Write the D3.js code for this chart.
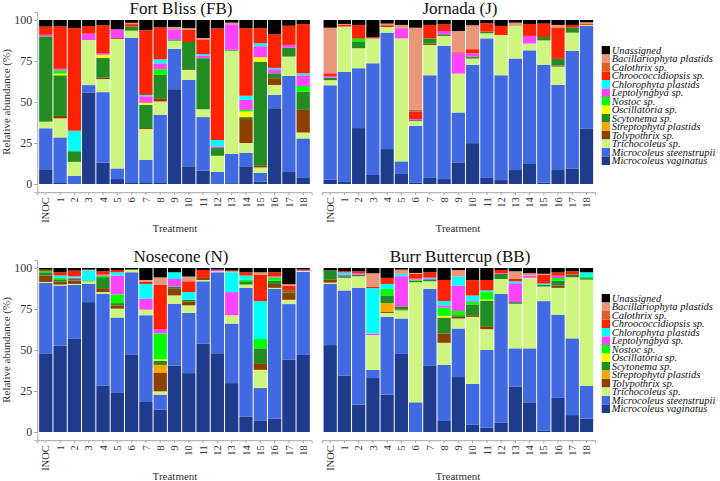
<!DOCTYPE html>
<html><head><meta charset="utf-8">
<script src="https://cdn.jsdelivr.net/npm/d3@7"></script>
<style>
html,body{margin:0;padding:0;background:#fff;}
svg text{font-family:"Liberation Serif","Times New Roman",serif;}
</style></head>
<body>
<svg id="chart" width="720" height="481"></svg>
<script>
const treatments = ["INOC","1","2","3","4","5","6","7","8","9","10","11","12","13","14","15","16","17","18"];
// stacking order bottom -> top
const keys = ["vag","steen","tricho","tolyp","strepto","scyto","osc","nostoc","lepto","chloro","chroo","calo","bacil","unas"];
const taxa = ["Microcoleus vaginatus","Microcoleus steenstrupii","Trichocoleus sp.","Tolypothrix sp.","Streptophyta plastids","Scytonema sp.","Oscillatoria sp.","Nostoc sp.","Leptolyngbya sp.","Chlorophyta plastids","Chroococcidiopsis sp.","Calothrix sp.","Bacillariophyta plastids","Unassigned"];
const colors = ["#1f3b8c","#4169e1","#cdf57f","#8b4000","#ffa500","#228b22","#ffff00","#00ff00","#ff44ff","#00ffff","#ff2200","#d9622b","#e9967a","#000000"];
const yTicks = [0,25,50,75,100];

const fortBliss = [
 {vag:9,steen:25,tricho:4,scyto:52,lepto:1,chroo:5,unas:4},
 {vag:0.6,steen:27.8,tricho:11.6,tolyp:1.5,scyto:24.8,osc:1,nostoc:2,lepto:1,chroo:25.8,unas:3.9},
 {steen:5,tricho:8.5,scyto:6.5,chloro:12.5,chroo:62.5,unas:5},
 {vag:55.8,steen:4.5,tricho:27.5,lepto:3.9,chroo:4.6,unas:3.7},
 {vag:13,steen:43,tricho:8,tolyp:0.8,scyto:12,osc:2,lepto:1,chroo:17,unas:3.2},
 {vag:3,steen:6.5,tricho:79,tolyp:0.5,lepto:5.3,unas:5.7},
 {vag:0.6,steen:88.6,tricho:4.3,scyto:2.5,chroo:1.5,bacil:0.8,unas:1.7},
 {vag:0.6,steen:14.2,tricho:18.7,tolyp:0.6,scyto:14.2,osc:1.2,lepto:4,chloro:0.8,chroo:39.5,unas:6.2},
 {vag:0.6,steen:41.6,tricho:8.1,tolyp:2,scyto:14.2,nostoc:3.5,lepto:3.6,chloro:2.4,chroo:19.5,unas:4.5},
 {vag:57.8,steen:24.6,tricho:5,scyto:0.8,lepto:6.1,bacil:1.5,unas:4.2},
 {vag:10.8,steen:52.7,tricho:6.1,tolyp:0.5,scyto:16.5,chroo:7.6,bacil:0.8,unas:5},
 {vag:8.1,steen:32.7,tricho:4.8,scyto:31.1,lepto:1.4,chloro:1,chroo:9.1,bacil:0.8,unas:11},
 {steen:7.5,tricho:9.7,scyto:4.7,lepto:1,chloro:3.9,chroo:68.1,unas:5.1},
 {vag:0.5,steen:17.8,tricho:63,scyto:0.6,lepto:15.5,bacil:1,unas:1.6},
 {vag:10.8,steen:8.1,tricho:6.1,tolyp:14.6,scyto:1.2,osc:3.4,nostoc:1,lepto:6.1,chloro:2.5,chroo:41.2,unas:5},
 {vag:1.6,steen:5.1,tricho:3.4,tolyp:1.3,scyto:63.2,osc:2.7,lepto:6.7,chloro:1.8,chroo:9.2,unas:5},
 {vag:46.2,steen:8.2,tricho:6,tolyp:4.1,scyto:3,lepto:2.5,chloro:0.8,chroo:20.5,unas:8.7},
 {vag:7.3,steen:58.6,tricho:11.8,scyto:5.5,lepto:1.6,chroo:11.7,unas:3.5},
 {vag:3.7,steen:24.1,tricho:3.6,tolyp:13.8,scyto:11,nostoc:3.6,lepto:6.5,chloro:1.2,chroo:30,unas:2.5}
];
const jornada = [
 {vag:2.6,steen:57.6,tricho:3.1,scyto:1.6,lepto:1,chroo:1.6,bacil:27.8,unas:4.7},
 {vag:1.2,steen:67.2,tricho:27.6,chroo:1,bacil:0.6,unas:2.4},
 {vag:34.1,steen:36.5,tricho:12.2,scyto:3.8,nostoc:2,chroo:8.4,unas:3},
 {vag:5.5,steen:68.1,tricho:15.2,chroo:0.7,unas:10.5},
 {vag:21.3,steen:71,tricho:3.4,chroo:1.1,bacil:1,unas:2.2},
 {vag:6.1,steen:7.7,tricho:75,lepto:6.2,bacil:2,unas:3},
 {vag:1,steen:34.5,tricho:3,scyto:0.6,lepto:0.5,chroo:4.4,calo:1.2,bacil:50.1,unas:4.7},
 {vag:3.7,steen:62.6,tricho:18.5,tolyp:0.8,scyto:3.2,chroo:8.2,unas:3},
 {vag:3,steen:81.2,tricho:6.1,scyto:1,lepto:2,chroo:4.1,unas:2.6},
 {vag:13.2,steen:30.4,tricho:23.7,lepto:12.4,chroo:0.6,bacil:13,unas:6.7},
 {vag:24.9,steen:47.7,tricho:3.9,scyto:1.2,lepto:2,chroo:2.5,bacil:14.6,unas:3.2},
 {vag:3.7,steen:85.1,tricho:3.1,scyto:1,chroo:5.1,unas:2},
 {vag:2.4,steen:63.9,tricho:24.6,chroo:5.5,unas:3.6},
 {vag:8.5,steen:68,tricho:19.9,bacil:2,unas:1.6},
 {vag:12.2,steen:69.3,tricho:4.1,lepto:4.7,chroo:7.3,unas:2.4},
 {vag:0.8,steen:71.8,tricho:15,scyto:2,chroo:8.2,unas:2.2},
 {vag:8.5,steen:51.9,tricho:11.2,tolyp:0.6,scyto:4.1,chroo:19.2,bacil:1.5,unas:3},
 {vag:9.5,steen:71.6,tricho:11.2,scyto:3,chroo:1.7,unas:3},
 {vag:33.9,steen:62.5,tricho:0.6,chroo:0.6,bacil:1,unas:1.4}
];
const nosecone = [
 {vag:47.6,steen:43.3,tricho:0.6,tolyp:3.9,scyto:2,nostoc:0.8,chroo:0.8,unas:1},
 {vag:52.6,steen:36.7,tricho:0.6,tolyp:1.8,scyto:1.4,nostoc:0.9,chloro:1.4,chroo:2,unas:2.6},
 {vag:57.1,steen:32.6,tricho:0.6,tolyp:2,scyto:1,lepto:0.8,chloro:0.8,chroo:3.5,unas:1.6},
 {vag:79.2,steen:11.1,tricho:1.6,scyto:0.5,chloro:6.1,bacil:0.5,unas:1},
 {vag:28.4,steen:55.9,tricho:1,tolyp:2.4,scyto:6.7,nostoc:1,lepto:0.6,chroo:2,unas:2},
 {vag:23.8,steen:46,tricho:5.4,tolyp:2,scyto:1.4,nostoc:5.3,lepto:11.5,chloro:2,chroo:1.4,unas:1.2},
 {vag:47,steen:50.4,tricho:1.4,scyto:0.4,unas:0.8},
 {vag:18.3,steen:52.9,tricho:3.4,lepto:6.7,chloro:9,chroo:1.4,bacil:1,unas:7.3},
 {vag:13.7,steen:9.1,tricho:2,tolyp:11.5,strepto:4.6,scyto:2.6,osc:0.9,nostoc:15.7,lepto:2.6,chroo:27,bacil:4.6,unas:5.7},
 {vag:40.5,steen:37.7,tricho:5.1,tolyp:4,scyto:1.4,lepto:4.6,chloro:4.1,unas:2.6},
 {vag:35.9,steen:36.7,tricho:4.6,tolyp:2.4,scyto:1,chloro:4.7,chroo:6.6,bacil:2.9,unas:5.2},
 {vag:54,steen:37.9,tricho:0.8,tolyp:1.7,chroo:4.4,unas:1.2},
 {vag:48,steen:49.4,tricho:0.6,lepto:1,unas:1},
 {vag:29.8,steen:36.3,tricho:5.1,lepto:14.1,chloro:12.1,bacil:1,unas:1.6},
 {vag:9.3,steen:78.6,tricho:2,scyto:2,nostoc:1,chloro:2.5,chroo:2,unas:2.6},
 {vag:7.1,steen:19.7,tricho:11.1,tolyp:3.6,scyto:9.5,nostoc:5.7,chloro:23.1,chroo:16,bacil:1.6,unas:2.6},
 {vag:8.1,steen:79.2,tricho:0.6,tolyp:2.4,scyto:2,nostoc:2,lepto:0.6,chroo:2.5,unas:2.6},
 {vag:44,steen:34,tricho:2.6,tolyp:4.5,scyto:1,chroo:3,bacil:1,unas:9.9},
 {vag:47,steen:50.6,tricho:0.6,lepto:0.8,unas:1}
];
const burrButtercup = [
 {vag:53,steen:37.3,tricho:0.8,tolyp:2,scyto:5.5,unas:1.4},
 {vag:34.5,steen:51.8,tricho:7.7,scyto:1,lepto:0.8,chloro:1.5,chroo:0.8,unas:1.9},
 {vag:16.7,steen:71.2,tricho:7.1,scyto:1,lepto:0.8,chroo:1.2,unas:2},
 {vag:32.9,steen:5,tricho:21.2,lepto:1,chloro:27.6,chroo:1,bacil:8.1,unas:3.2},
 {vag:22.8,steen:47.4,tricho:2.4,tolyp:0.6,strepto:5.4,scyto:4.7,nostoc:4,chloro:3,chroo:3.7,unas:6},
 {vag:47.6,steen:21.6,tricho:5,tolyp:0.4,scyto:2,lepto:18.4,chloro:1.4,bacil:2.6,unas:1},
 {steen:18.1,tricho:73.2,scyto:1,nostoc:0.6,lepto:0.6,chroo:3,bacil:0.5,unas:3},
 {vag:40.3,steen:47,tricho:4.6,scyto:0.8,lepto:0.6,chloro:0.8,chroo:3.3,unas:2.6},
 {vag:6.7,steen:34.2,tricho:13.5,tolyp:5.7,scyto:9.7,osc:1,nostoc:5,lepto:1.4,chloro:2.6,chroo:12.9,unas:7.3},
 {vag:33.5,steen:29.6,tricho:6.1,tolyp:1,scyto:1,nostoc:2.6,lepto:15.5,chloro:5.5,bacil:4,unas:1.2},
 {vag:4.6,steen:24.8,tricho:40.8,tolyp:1,scyto:6.6,nostoc:1.4,lepto:0.6,chloro:3.4,chroo:9.4,unas:7.4},
 {vag:2.6,steen:47.4,tricho:12.7,tolyp:1.8,scyto:15.7,osc:0.6,nostoc:4.5,chloro:1,chroo:6.4,unas:7.3},
 {vag:5.6,steen:78.7,tricho:9,scyto:3.1,lepto:0.4,chroo:2,unas:1.2},
 {vag:27.8,steen:23.2,tricho:27.2,scyto:1,lepto:11.5,chloro:1.2,chroo:1.4,bacil:4.7,unas:2},
 {vag:18.1,steen:32.9,tricho:43,lepto:1.4,bacil:1.4,unas:3.2},
 {vag:1,steen:78.8,tricho:8.9,scyto:1,chloro:0.8,chroo:5.5,bacil:0.5,unas:3.5},
 {vag:20.8,steen:50.8,tricho:16.3,tolyp:1.4,scyto:3,nostoc:1.6,lepto:1.4,chroo:2,unas:2.7},
 {vag:10.3,steen:46.8,tricho:37.3,scyto:1.6,chroo:2,unas:2},
 {vag:8.1,steen:20.1,tricho:64.7,scyto:0.9,nostoc:1,chloro:2.6,unas:2.6}
];

const panels = [
 {title:"Fort Bliss (FB)", data:fortBliss, col:0, row:0},
 {title:"Jornada (J)", data:jornada, col:1, row:0},
 {title:"Nosecone (N)", data:nosecone, col:0, row:1},
 {title:"Burr Buttercup (BB)", data:burrButtercup, col:1, row:1}
];

const svg = d3.select("#chart");
const colRange = [[37.3, 311.7],[321.7, 595]];
const titleX = [181, 460];
const xLabX = [175, 458];
const rowOff = [0, 248];
const axisGray = "#a6a6a6";
const textGray = "#333";
const color = d3.scaleOrdinal().domain(keys).range(colors);

const stack = d3.stack().keys(keys).value((d,k)=>d[k]||0).offset(d3.stackOffsetExpand);

panels.forEach(p=>{
  const oy = rowOff[p.row];
  const g = svg.append("g").attr("transform",`translate(0,${oy})`);
  const x = d3.scaleBand().domain(treatments).range(colRange[p.col]).paddingInner(0.07).paddingOuter(0.13);
  const y = d3.scaleLinear().domain([-5,105]).range([192.2, 11.8]);
  const rows = p.data.map((d,i)=>Object.assign({t:treatments[i]}, d));
  const series = stack(rows);
  g.append("g").selectAll("g").data(series).join("g")
    .attr("fill", s=>color(s.key))
    .selectAll("rect").data(s=>s).join("rect")
    .attr("x", d=>x(d.data.t))
    .attr("width", x.bandwidth())
    .attr("y", d=>y(d[1]*100))
    .attr("height", d=>Math.max(0, y(d[0]*100)-y(d[1]*100)));

  // x axis
  const xa = g.append("g").attr("transform","translate(0,192.2)")
    .call(d3.axisBottom(x).tickSizeOuter(0).tickSize(3).tickPadding(2));
  xa.select(".domain").attr("stroke", axisGray);
  xa.selectAll(".tick line").attr("stroke", axisGray);
  xa.selectAll(".tick text")
    .attr("font-size", 10.5).attr("fill", textGray)
    .attr("transform","rotate(-90)")
    .attr("text-anchor","end").attr("x",-5).attr("y",0).attr("dy","0.35em");

  if (p.col===0){
    const ya = g.append("g").attr("transform",`translate(${colRange[0][0]},0)`)
      .call(d3.axisLeft(y).tickValues(yTicks).tickSizeOuter(0).tickSize(3).tickPadding(2));
    ya.select(".domain").attr("stroke", axisGray);
    ya.selectAll(".tick line").attr("stroke", axisGray);
    ya.selectAll(".tick text").attr("font-size", 12).attr("fill", textGray);
    g.append("text").attr("transform",`translate(10,102) rotate(-90)`)
      .attr("text-anchor","middle").attr("font-size",11).attr("fill",textGray)
      .text("Relative abundance (%)");
  }
  g.append("text").attr("x", titleX[p.col]).attr("y", 14)
    .attr("text-anchor","middle").attr("font-size",17).attr("fill","#111")
    .text(p.title);
  g.append("text").attr("x", xLabX[p.col]).attr("y", 231.5)
    .attr("text-anchor","middle").attr("font-size",11).attr("fill",textGray)
    .text("Treatment");

  if (p.col===1){
    const lg = g.append("g").attr("transform","translate(601.7,46)");
    const order = keys.slice().reverse();
    const it = lg.selectAll("g").data(order).join("g")
      .attr("transform",(d,i)=>`translate(0,${i*8.5})`);
    it.append("rect").attr("width",8.3).attr("height",8.5).attr("fill",d=>color(d));
    it.append("text").attr("x",10).attr("y",7.6)
      .attr("font-size",10.5).attr("font-style","italic").attr("fill","#111")
      .text(d=>taxa[keys.indexOf(d)]);
  }
});
</script>
</body></html>
